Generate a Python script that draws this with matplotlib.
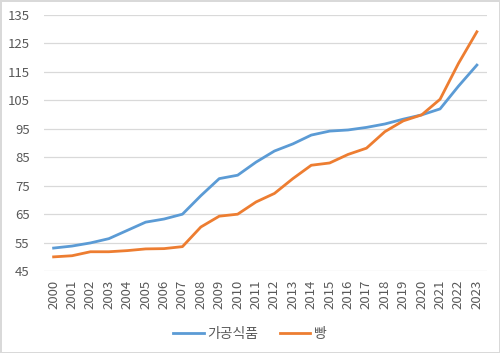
import matplotlib.pyplot as plt

plt.rcParams['font.family'] = ['Noto Sans CJK KR', 'DejaVu Sans']

years = [str(y) for y in range(2000, 2024)]
processed = [53.1, 53.8, 54.9, 56.4, 59.3, 62.2, 63.3, 65.0, 71.5, 77.5, 78.7, 83.3,
             87.2, 89.7, 92.8, 94.2, 94.6, 95.5, 96.7, 98.4, 99.9, 102.0, 110.0, 117.4]
bread = [50.0, 50.4, 51.8, 51.8, 52.2, 52.8, 52.9, 53.6, 60.5, 64.3, 65.0, 69.3,
         72.3, 77.5, 82.2, 83.0, 86.0, 88.2, 94.0, 97.8, 99.9, 105.4, 118.0, 129.1]
labels = ['가공식품', '빵']
yticks = list(range(45, 136, 10))

fig = plt.figure(figsize=(5, 3.53), dpi=100)
fig.patch.set_edgecolor('#D9D9D9')
fig.patch.set_linewidth(1.0)
ax = fig.add_axes([0.087, 0.232, 0.887, 0.7255])

x = range(len(years))
ax.plot(x, processed, color='#5B9BD5', lw=2.0, label=labels[0])
ax.plot(x, bread, color='#ED7D31', lw=2.0, label=labels[1])

ax.set_xlim(-0.55, len(years) - 0.45)
ax.set_ylim(45, 135)
ax.set_yticks(yticks)
ax.set_xticks(list(x))
ax.set_xticklabels(years, rotation=90)
ax.grid(axis='y', color='#D9D9D9', lw=0.9)
ax.set_axisbelow(True)
for s in ax.spines.values():
    s.set_visible(False)
ax.tick_params(length=0, colors='#595959', labelsize=9.5)
ax.tick_params(axis='y', pad=10)
ax.tick_params(axis='x', pad=6)

fig.legend(loc='center', bbox_to_anchor=(0.5, 0.054), ncol=2, frameon=False,
           fontsize=10, labelcolor='#595959', handlelength=2.2, columnspacing=1.5,
           handletextpad=0.3)

fig.savefig('out.png', dpi=100, edgecolor=fig.get_edgecolor())
